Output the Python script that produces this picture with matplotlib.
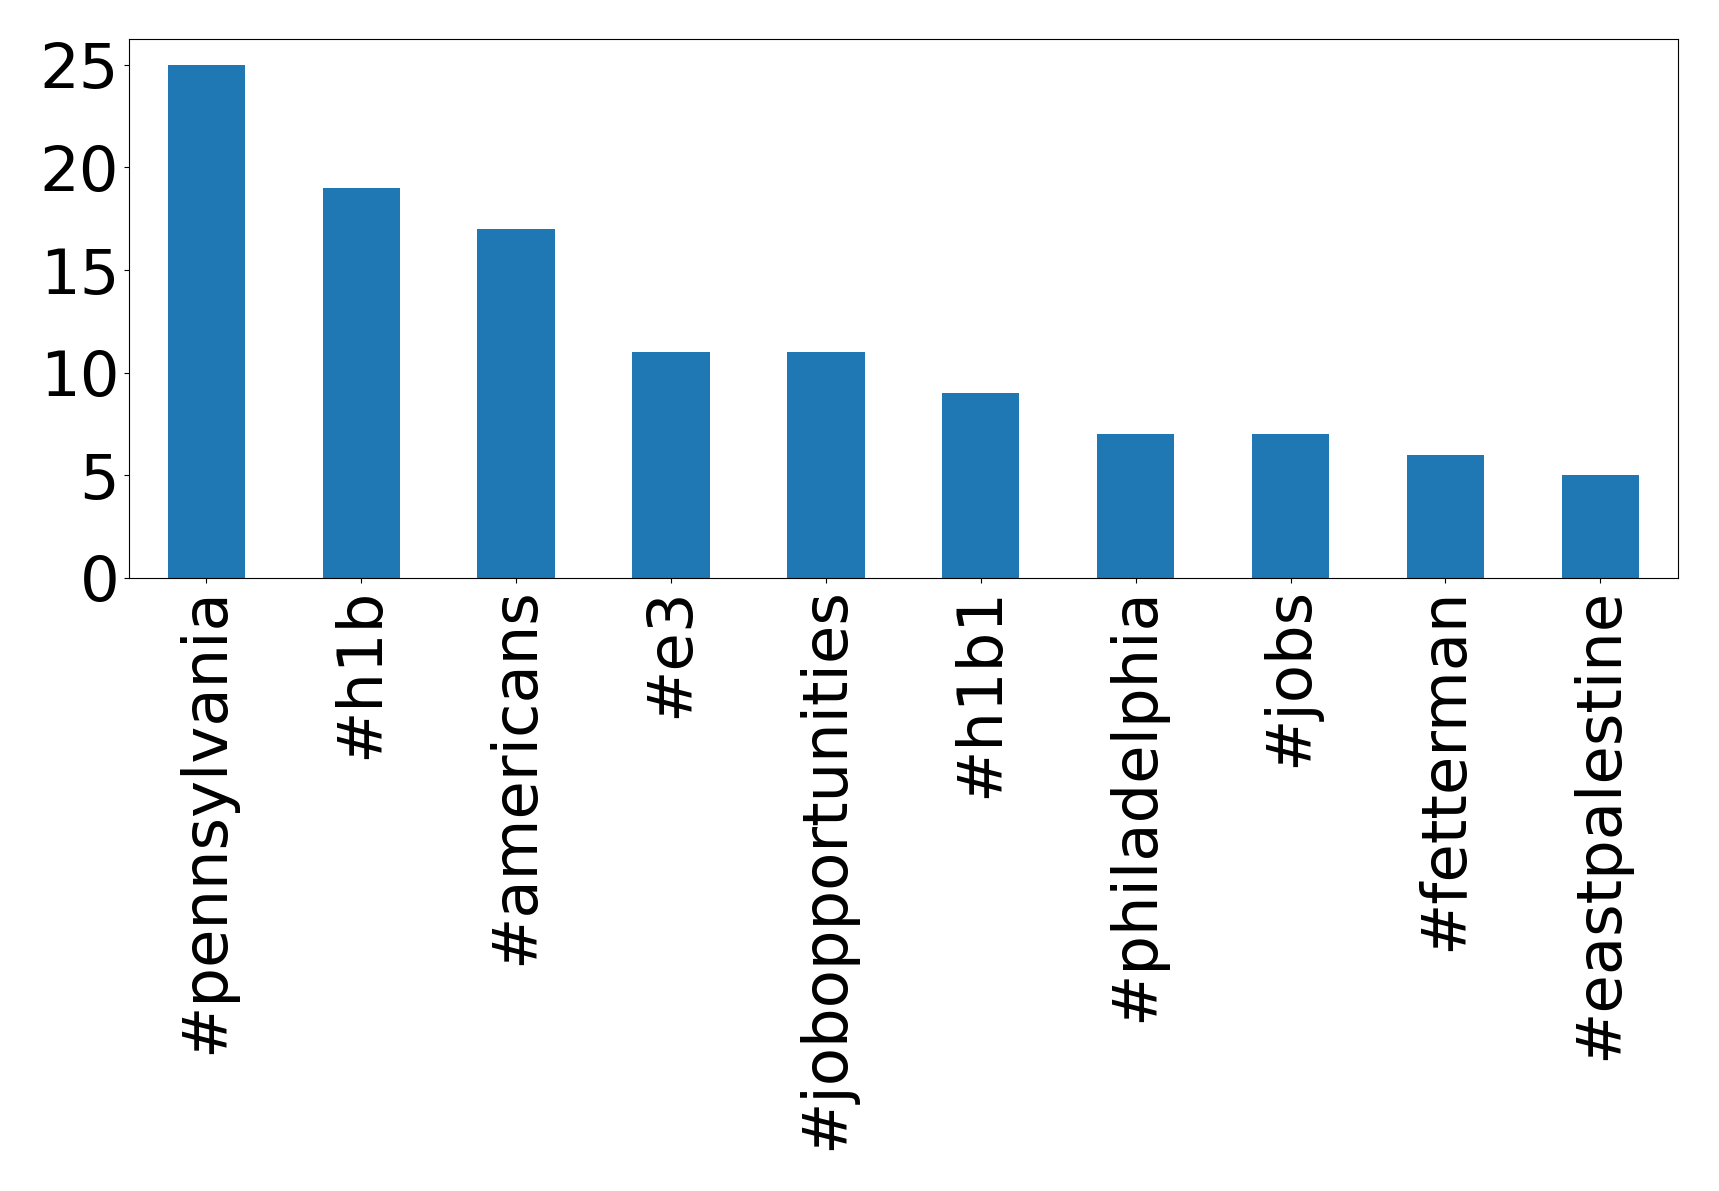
import matplotlib
matplotlib.use('Agg')
import matplotlib.pyplot as plt
import pandas as pd

# hashtag counts
tags = ['#pennsylvania', '#h1b', '#americans', '#e3', '#jobopportunities',
        '#h1b1', '#philadelphia', '#jobs', '#fetterman', '#eastpalestine']
counts = [25, 19, 17, 11, 11, 9, 7, 7, 6, 5]

s = pd.Series(counts, index=tags)

fig = plt.figure(figsize=(17.19, 11.91), dpi=100)
ax = fig.add_axes([0.075, 0.515, 0.901, 0.452])
s.plot(kind='bar', ax=ax, color='#1f77b4')

ax.tick_params(axis='both', labelsize=45)
ax.set_yticks([0, 5, 10, 15, 20, 25])

plt.savefig('out.png', dpi=100)
